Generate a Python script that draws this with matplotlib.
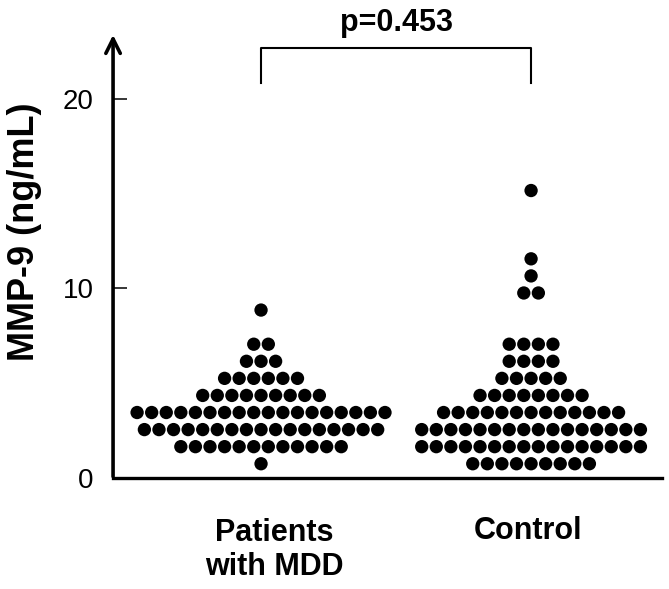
import numpy as np
import matplotlib
matplotlib.use("Agg")
import matplotlib.pyplot as plt

plt.rcParams['font.family'] = ['Liberation Sans', 'DejaVu Sans']

# dot rows: value level and number of dots in that row
mdd_levels = [0.75, 1.65, 2.55, 3.45, 4.35, 5.25, 6.15, 7.05, 8.85]
mdd_counts = [1, 12, 17, 18, 9, 6, 3, 2, 1]
ctrl_levels = [0.75, 1.65, 2.55, 3.45, 4.35, 5.25, 6.15, 7.05, 9.75, 10.65, 11.55, 15.15]
ctrl_counts = [9, 16, 16, 13, 8, 5, 4, 4, 2, 1, 1, 1]

groups = ["Patients\nwith MDD", "Control"]
p_text = "p=0.453"
yticks = [0, 10, 20]


def swarm(center, levels, counts, step=0.054):
    xs, ys = [], []
    for lev, n in zip(levels, counts):
        offs = (np.arange(n) - (n - 1) / 2) * step
        xs.extend(center + offs)
        ys.extend([lev] * n)
    return xs, ys


fig = plt.figure(figsize=(6.69, 5.89), dpi=100)
ax = fig.add_axes([0.169, 0.1885, 0.8206, 0.757])

for pos, (lv, ct) in zip([1, 2], [(mdd_levels, mdd_counts), (ctrl_levels, ctrl_counts)]):
    x, y = swarm(pos, lv, ct)
    ax.scatter(x, y, s=92, color='black', edgecolors='none', zorder=3)

ax.set_xlim(0.452, 2.485)
ax.set_ylim(0, 23.5)

# axes styling
for s in ['top', 'right', 'left']:
    ax.spines[s].set_visible(False)
ax.spines['bottom'].set_linewidth(2.4)
ax.annotate('', xy=(0, 1.0), xytext=(0, -0.003), xycoords='axes fraction',
            arrowprops=dict(arrowstyle='->', lw=2.6, mutation_scale=26, color='black'))

ax.set_yticks(yticks)
ax.set_yticklabels([str(t) for t in yticks], fontsize=20)
ax.tick_params(axis='y', direction='in', length=10, width=1.1, pad=14)
ax.set_xticks([])

ax.set_ylabel("MMP-9 (ng/mL)", fontsize=26, fontweight='bold')
ax.yaxis.set_label_coords(-0.13, 0.552)

# group labels
ax.text(1.048, -3.8, groups[0], ha='center', va='center', fontsize=22,
        fontweight='bold', linespacing=1.2)
ax.text(1.99, -2.8, groups[1], ha='center', va='center', fontsize=22,
        fontweight='bold')

# significance bracket
ax.plot([1, 1, 2, 2], [20.8, 22.65, 22.65, 20.8], color='black', lw=1.5, clip_on=False)
ax.text(1.5, 24.0, p_text, ha='center', va='center', fontsize=22, fontweight='bold')

fig.savefig("out.png", dpi=100)
